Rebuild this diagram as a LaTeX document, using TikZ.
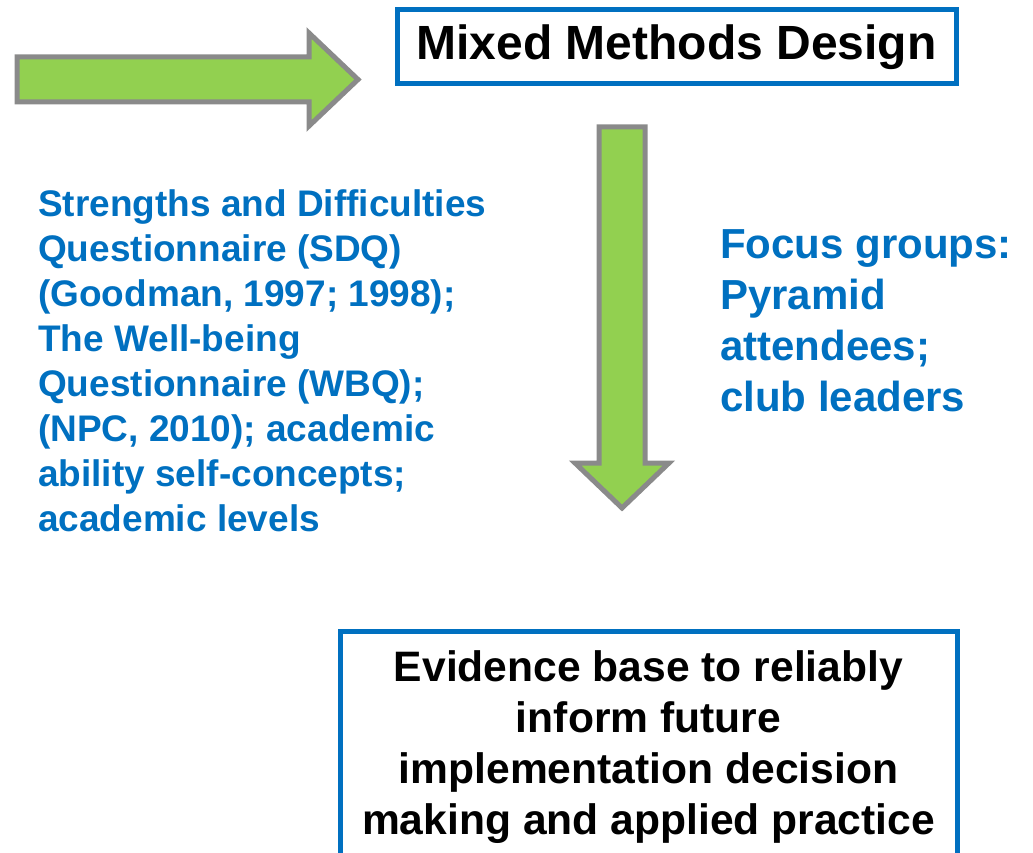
\documentclass[tikz,border=0pt]{standalone}
\usepackage{fontspec}
\setmainfont{Liberation Sans}
\definecolor{mmblue}{HTML}{0070C0}
\definecolor{mmgreen}{HTML}{92D050}
\definecolor{mmgray}{HTML}{8A8A8A}

\begin{document}
\begin{tikzpicture}[x=1pt,y=-1pt,font=\bfseries,line join=miter,
        box/.style={draw=mmblue,line width=5pt,fill=white,inner sep=0pt},
        blockarrow/.style={draw=mmgray,fill=mmgreen,line width=5pt},
        bluetext/.style={text=mmblue,align=left,inner sep=0pt}]
            \useasboundingbox (0,0) rectangle (1033,853);

            % green block arrows
            \draw[blockarrow] (17,57) -- (309,57) -- (309,33) -- (358,79.5) -- (309,126) -- (309,102) -- (17,102) -- cycle;
            \draw[blockarrow] (599,127) -- (645,127) -- (645,463) -- (669,463) -- (622,508) -- (575,463) -- (599,463) -- cycle;

            % boxes
            \node[box, minimum width=559pt, minimum height=74pt, font={\fontsize{48}{57}\selectfont\bfseries}] (design) at (676.5,47) {Mixed Methods Design};
            \node[box, minimum width=617pt, minimum height=224pt] (evidence) at (648.5,743) {};
            \node[align=center, inner sep=0pt, font={\fontsize{42.6}{51}\selectfont\bfseries}] (evidencetext) at ([yshift=-4pt]evidence.center)
                {Evidence base to reliably\\ inform future\\ implementation decision\\ making and applied practice};

            % measures (anchored at the baseline of the last line)
            \node[bluetext, anchor=base west, font={\fontsize{37}{45}\selectfont\bfseries}] (sdq) at (38,531)
                {Strengths and Difficulties\\ Questionnaire (SDQ)\\ (Goodman, 1997; 1998);\\ The Well-being\\ Questionnaire (WBQ);\\ (NPC, 2010); academic\\ ability self-concepts;\\ academic levels};
            \node[bluetext, anchor=base west, font={\fontsize{42}{51}\selectfont\bfseries}] (focus) at (720,411)
                {Focus groups:\\ Pyramid\\ attendees;\\ club leaders};
        \end{tikzpicture}
\end{document}
